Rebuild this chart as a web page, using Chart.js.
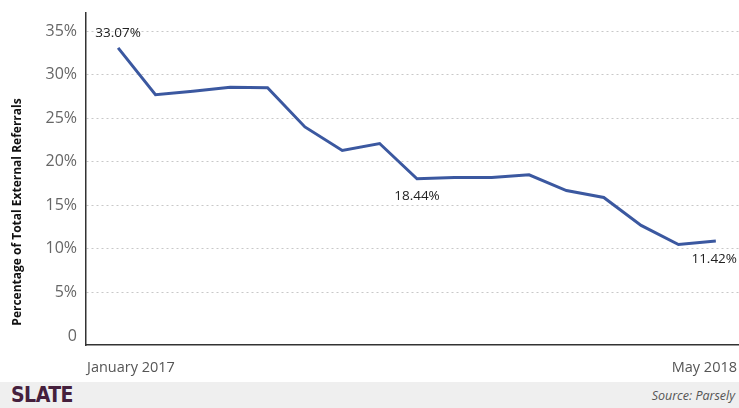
<!DOCTYPE html>
<html>
<head>
<meta charset="utf-8">
<script src="https://cdn.jsdelivr.net/npm/chart.js@4"></script>
<style>
  html, body { margin: 0; padding: 0; background: #fff; }
  #wrap { position: relative; width: 739px; height: 382px; }
  #footer {
    width: 739px; height: 26px; background: #efefef; position: relative;
    font-family: "Open Sans", sans-serif;
  }
  #logo {
    position: absolute; left: 11px; top: 1px; font-family: "DejaVu Sans Condensed", "Liberation Sans Narrow", sans-serif;
    font-weight: bold; font-size: 21px; color: #45203d; letter-spacing: -0.5px;
  }
  #source {
    position: absolute; right: 4px; top: 5px; font-style: italic; font-size: 12.5px; color: #555;
  }
</style>
</head>
<body>
<div id="wrap"><canvas id="refChart" width="739" height="382"></canvas></div>
<div id="footer"><span id="logo">SLATE</span><span id="source">Source: Parsely</span></div>
<script>
// meses de enero 2017 a mayo 2018
const months = ['Jan 2017', 'Feb 2017', 'Mar 2017', 'Apr 2017', 'May 2017', 'Jun 2017', 'Jul 2017', 'Aug 2017',
    'Sep 2017', 'Oct 2017', 'Nov 2017', 'Dec 2017', 'Jan 2018', 'Feb 2018', 'Mar 2018', 'Apr 2018', 'May 2018'];
const shares = [33.07, 27.7, 28.1, 28.55, 28.5, 24.0, 21.3, 22.1, 18.05, 18.2, 18.2, 18.5, 16.7, 15.9, 12.7, 10.5, 10.9];
const yTicks = [0, 5, 10, 15, 20, 25, 30, 35];
const xTickLabels = ['January 2017', 'May 2018'];
const yTitle = 'Percentage of Total External Referrals';
// anotaciones: indice del punto, texto, desplazamiento vertical
const notes = [
    { index: 0, text: '33.07%', dy: -15 },
    { index: 8, text: '18.44%', dy: 17 },
    { index: 16, text: '11.42%', dy: 18 }
];

const X_MIN = -0.86, X_MAX = 16.62;
const FONT = '"Open Sans", sans-serif';

const notesPlugin = {
    id: 'notes',
    afterDatasetsDraw(chart) {
        const ctx = chart.ctx;
        const meta = chart.getDatasetMeta(0);
        const area = chart.chartArea;
        ctx.save();
        ctx.font = '13.5px ' + FONT;
        ctx.fillStyle = '#222';
        ctx.textAlign = 'center';
        ctx.textBaseline = 'middle';
        notes.forEach(n => {
            const pt = meta.data[n.index];
            let x = pt.x;
            const w = ctx.measureText(n.text).width;
            if (x + w / 2 > chart.width - 2) x = chart.width - 2 - w / 2;
            ctx.fillText(n.text, x, pt.y + n.dy);
        });

        // etiquetas del eje x en los extremos
        ctx.font = '14.5px ' + FONT;
        ctx.fillStyle = '#555';
        ctx.textAlign = 'left';
        ctx.fillText(xTickLabels[0], area.left + 1, area.bottom + 23);
        ctx.textAlign = 'right';
        ctx.fillText(xTickLabels[1], chart.width - 2, area.bottom + 23);

        // titulo del eje y
        ctx.translate(18, 212);
        ctx.rotate(-Math.PI / 2);
        ctx.textAlign = 'center';
        ctx.font = 'bold 12px ' + FONT;
        ctx.fillStyle = '#111';
        ctx.fillText(yTitle, 0, 0);
        ctx.restore();
    }
};

new Chart(document.getElementById('refChart'), {
    type: 'line',
    data: {
        datasets: [{
            label: 'Share',
            data: shares.map((v, i) => ({ x: i, y: v })),
            borderColor: '#3b58a0',
            borderWidth: 3,
            pointRadius: 0,
            tension: 0,
            fill: false
        }]
    },
    options: {
        responsive: false,
        animation: false,
        layout: { padding: { top: 13, right: 0, left: 0, bottom: 0 } },
        plugins: {
            legend: { display: false },
            tooltip: { enabled: false }
        },
        scales: {
            x: {
                type: 'linear',
                min: X_MIN,
                max: X_MAX,
                afterFit: axis => { axis.height = 37; axis.paddingLeft = 0; axis.paddingRight = 0; },
                grid: { display: false, drawTicks: false },
                border: { color: '#333', width: 1.5 },
                ticks: { display: false }
            },
            y: {
                min: -1.03,
                max: 37.08,
                afterBuildTicks: axis => { axis.ticks = yTicks.map(v => ({ value: v })); },
                afterFit: axis => { axis.width = 86; axis.paddingTop = 0; axis.paddingBottom = 0; },
                grid: {
                    color: ctx => ctx.tick && ctx.tick.value === 0 ? 'rgba(0,0,0,0)' : '#c8c8c8',
                    drawTicks: false
                },
                border: { color: '#333', width: 1.5, dash: [2, 3] },
                ticks: {
                    padding: 9,
                    color: '#666',
                    font: { family: FONT, size: 16 },
                    callback: v => v === 0 ? '0' : v + '%'
                }
            }
        }
    },
    plugins: [notesPlugin]
});
</script>
</body>
</html>
